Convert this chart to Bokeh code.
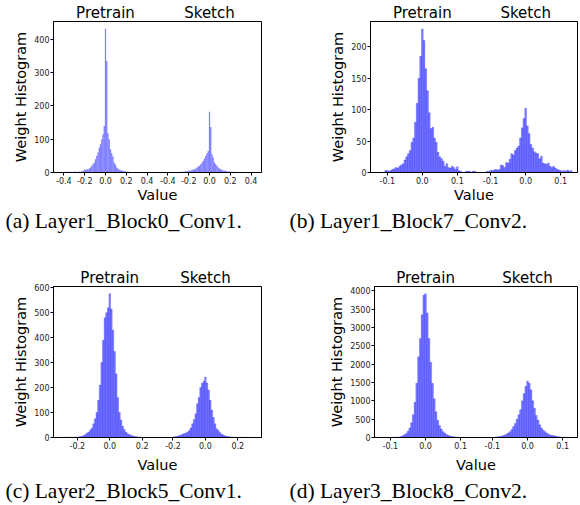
import numpy as np
from bokeh.plotting import figure
from bokeh.models import LinearAxis, FixedTicker, Title, Range1d, ColumnDataSource
from bokeh.layouts import column, row
from bokeh.embed import file_html
from bokeh.resources import INLINE

# ---------------- data ----------------
series_names = ["Pretrain", "Sketch"]

# (a) Layer1_Block0_Conv1
a_caption = "(a) Layer1_Block0_Conv1."
a_bin = 0.012
a_pre_start = -0.396
a_pre_counts = [2, 0, 0, 3, 0, 2, 0, 0, 3, 0, 2, 0, 3,
                2, 3, 5, 8, 8, 10, 10, 12, 15, 20, 25, 30, 40, 50, 60, 75, 85, 100, 115, 140,
                432,
                335, 118, 100, 70, 58, 48, 30, 24, 15, 12, 9, 7, 6, 5, 4, 4, 3, 2, 2, 1, 0, 1]
a_sk_start = -0.3
a_sk_counts = [1, 2, 1, 2, 2, 3, 4, 4, 5, 5, 6, 8, 8, 10, 12, 15, 18, 20, 25, 30, 35, 42, 50, 58, 65,
               183,
               137, 55, 45, 30, 25, 20, 15, 12, 10, 8, 6, 5, 5, 4, 3, 3, 2, 2, 1, 2, 1, 1, 1]
a_offset = 1.0
a_xticks = [-0.4, -0.2, 0.0, 0.2, 0.4]
a_xlabels = ["-0.4", "-0.2", "0.0", "0.2", "0.4"]
a_yticks = [0, 100, 200, 300, 400]

# (b) Layer1_Block7_Conv2
b_caption = "(b) Layer1_Block7_Conv2."
b_bin = 0.005
b_pre_start = -0.105
b_pre_counts = [3, 3, 2, 3, 5, 6, 8, 7, 10, 12, 14, 20, 25, 30, 35, 48, 55, 80, 110, 150,
                185, 228, 210, 165, 130, 95, 70, 72, 55, 48, 32, 25, 22, 18, 10, 14, 8,
                7, 10, 8, 5, 9, 3, 2, 0, 0, 2, 2, 2, 0, 2, 2]
b_sk_start = -0.11
b_sk_counts = [2, 2, 3, 3, 4, 5, 4, 5, 12, 11, 8, 16, 15, 21, 30, 28, 35, 39, 42, 55, 71, 86, 102,
               74, 62, 45, 39, 33, 31, 30, 22, 26, 15, 14, 13, 15, 10, 8, 10, 7, 5, 4, 3, 2, 3, 2, 4, 2, 3]
b_offset = 0.295
b_xticks = [-0.1, 0.0, 0.1]
b_xlabels = ["-0.1", "0.0", "0.1"]
b_yticks = [0, 50, 100, 150, 200]

# (c) Layer2_Block5_Conv1
c_caption = "(c) Layer2_Block5_Conv1."
c_bin = 0.01
c_pre_start = -0.28
c_pre_counts = [1, 1, 1, 1, 1, 1, 2, 2, 2, 3, 4, 5, 8, 12, 18, 22, 30, 38, 55, 75,
                100, 150, 210, 300, 390, 480, 500, 520, 576, 515, 430, 345, 255, 160, 100,
                70, 45, 32, 22, 16, 12, 9, 7, 5, 4, 3, 2, 2, 1]
c_sk_start = -0.2
c_sk_counts = [2, 3, 4, 6, 8, 10, 13, 16, 18, 22, 28, 38, 55, 72, 95, 135, 160, 200, 217, 225,
               242, 218, 190, 150, 110, 80, 55, 35, 28, 20, 14, 10, 7, 5, 4, 3, 2, 2, 1, 1, 1,
               1, 1, 0, 1, 0, 1, 0, 1]
c_offset = 0.59
c_xticks = [-0.2, 0.0, 0.2]
c_xlabels = ["-0.2", "0.0", "0.2"]
c_yticks = [0, 100, 200, 300, 400, 500, 600]

# (d) Layer3_Block8_Conv2
d_caption = "(d) Layer3_Block8_Conv2."
d_bin = 0.005
d_pre_start = -0.1
d_pre_counts = [2, 3, 4, 6, 10, 15, 25, 45, 75, 110, 170, 260, 400, 620, 960,
                1480, 2200, 2700, 3350, 3880, 3920, 3400, 2700, 2050, 1480, 1060,
                700, 470, 330, 230, 160, 120, 80, 60, 40, 30, 22, 15, 10, 6, 4]
d_sk_start = -0.09
d_sk_counts = [15, 20, 25, 35, 50, 65, 90, 120, 160, 220, 300, 380, 500, 620, 760,
               1000, 1200, 1400, 1540, 1480, 1300, 1000, 800, 600, 480, 350, 260, 200, 160, 120,
               90, 70, 60, 50, 40, 30, 20, 15, 10, 6, 4]
d_offset = 0.29
d_xticks = [-0.1, 0.0, 0.1]
d_xlabels = ["-0.1", "0.0", "0.1"]
d_yticks = [0, 500, 1000, 1500, 2000, 2500, 3000, 3500, 4000]

FONT = "DejaVu Sans"


def make_panel(pre_counts, pre_start, sk_counts, sk_start, bw, offset, xticks, xlabels,
               yticks, xr, ymax, caption, width, height, left, right, bottom, edge,
               cap_offset, xlabel_standoff):
    p = figure(width=width, height=height, x_range=Range1d(*xr), y_range=Range1d(0, ymax),
               output_backend="svg", toolbar_location=None,
               min_border_left=left, min_border_right=right,
               min_border_top=16, min_border_bottom=bottom)
    p.background_fill_color = "white"
    p.border_fill_color = "white"
    p.grid.visible = False
    p.outline_line_color = "black"
    p.outline_line_width = 1
    p.outline_line_alpha = 1

    pre_x = pre_start + bw * np.arange(len(pre_counts))
    sk_x = sk_start + bw * np.arange(len(sk_counts)) + offset
    src = ColumnDataSource(dict(x=np.concatenate([pre_x, sk_x]),
                                top=list(pre_counts) + list(sk_counts)))
    if edge:
        p.vbar(x="x", top="top", width=bw, source=src, fill_color="#0000ff", fill_alpha=0.5,
               line_color="#0000ff", line_alpha=0.35, line_width=0.6)
    else:
        p.vbar(x="x", top="top", width=bw, source=src, fill_color="#0000ff", fill_alpha=0.5,
               line_color=None)

    ticks = list(xticks) + [t + offset for t in xticks]
    overrides = {}
    for t, lab in zip(xticks, xlabels):
        overrides[float(t)] = lab
        overrides[float(t + offset)] = lab
    xa = p.xaxis[0]
    xa.ticker = FixedTicker(ticks=ticks, minor_ticks=[])
    xa.major_label_overrides = overrides
    ya = p.yaxis[0]
    ya.ticker = FixedTicker(ticks=yticks, minor_ticks=[])
    for ax in (xa, ya):
        ax.major_tick_out = 3
        ax.major_tick_in = 0
        ax.major_tick_line_color = "black"
        ax.axis_line_color = "black"
        ax.major_label_text_font = FONT
        ax.major_label_text_font_size = "8px"
        ax.major_label_text_color = "#222222"
        ax.major_label_standoff = 1
        ax.axis_label_text_font = FONT
        ax.axis_label_text_font_size = "14.5px"
        ax.axis_label_text_font_style = "normal"
        ax.axis_label_text_color = "black"
    ya.axis_label_standoff = 2
    xa.axis_label_standoff = xlabel_standoff
    xa.axis_label = "Value"
    ya.axis_label = "Weight Histogram"

    top = LinearAxis(ticker=FixedTicker(ticks=[0.0, offset], minor_ticks=[]),
                     major_label_overrides={0.0: series_names[0], float(offset): series_names[1]})
    top.major_tick_out = 0
    top.major_tick_in = 0
    top.axis_line_color = None
    top.major_label_text_font = FONT
    top.major_label_text_font_size = "15px"
    top.major_label_text_color = "black"
    top.major_label_standoff = 0
    p.add_layout(top, "above")

    t = Title(text=caption, align="left", offset=cap_offset, text_font="Liberation Serif",
              text_font_size="21.5px", text_font_style="normal", text_color="black", standoff=3)
    p.add_layout(t, "below")
    return p


pa = make_panel(a_pre_counts, a_pre_start, a_sk_counts, a_sk_start, a_bin, a_offset,
                a_xticks, a_xlabels, a_yticks, (-0.5, 1.5), 454, a_caption,
                290, 265, 53, 29, 93, False, -48, 0)
pb = make_panel(b_pre_counts, b_pre_start, b_sk_counts, b_sk_start, b_bin, b_offset,
                b_xticks, b_xlabels, b_yticks, (-0.148, 0.443), 240, b_caption,
                290, 265, 80, 3, 93, True, -81, 0)
pc = make_panel(c_pre_counts, c_pre_start, c_sk_counts, c_sk_start, c_bin, c_offset,
                c_xticks, c_xlabels, c_yticks, (-0.347, 0.936), 605, c_caption,
                290, 240, 53, 29, 68, True, -48, 5)
pd_ = make_panel(d_pre_counts, d_pre_start, d_sk_counts, d_sk_start, d_bin, d_offset,
                 d_xticks, d_xlabels, d_yticks, (-0.145, 0.432), 4120, d_caption,
                 290, 240, 84, 3, 68, True, -85, 5)

layout = column(row(pa, pb), row(pc, pd_))
open("out.html", "w").write(file_html(layout, INLINE))
